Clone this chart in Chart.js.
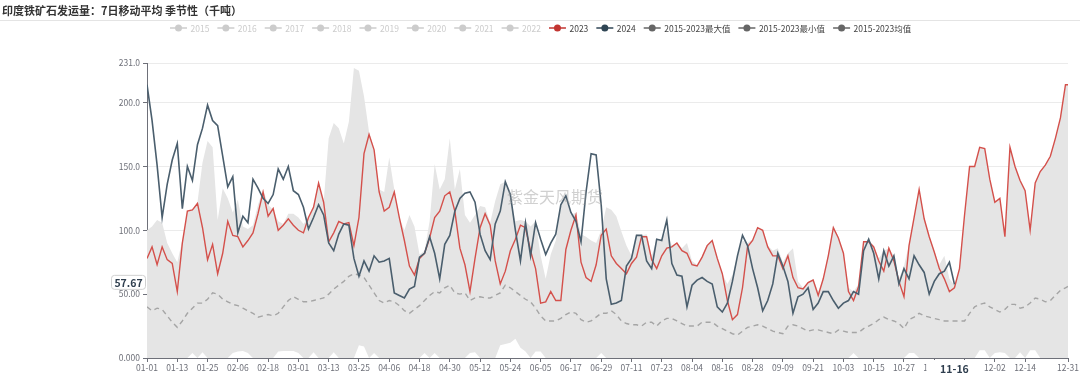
<!DOCTYPE html>
<html>
<head>
<meta charset="utf-8">
<script src="https://cdn.jsdelivr.net/npm/chart.js@4.4.1/dist/chart.umd.min.js"></script>
<style>
html, body { margin: 0; padding: 0; background: #fff; }
</style>
</head>
<body>
<canvas id="seasonChart" width="1080" height="376"></canvas>
<script>
const FONT = '"Noto Sans CJK SC", "Noto Sans", sans-serif'
const titleText = '印度铁矿石发运量：7日移动平均 季节性（千吨）'

// x = day of year (leap calendar), sampled every 2 days, last point 12-31
const days = Array.from({length: 183}, (_, i) => i * 2).concat([365])

const tickDays = [0, 12, 24, 36, 48, 60, 72, 84, 96, 108, 120, 132, 144, 156, 168, 180, 192, 204, 216, 228, 240, 252, 264, 276, 288, 300, 312, 324, 336, 348, 365]
const tickLabels = ['01-01', '01-13', '01-25', '02-06', '02-18', '03-01', '03-13', '03-25', '04-06', '04-18', '04-30', '05-12', '05-24', '06-05', '06-17', '06-29', '07-11', '07-23', '08-04', '08-16', '08-28', '09-09', '09-21', '10-03', '10-15', '10-27', '11-08', '11-20', '12-02', '12-14', '12-31']
const yTicks = [0, 50, 100, 150, 200, 231]
const yTickLabels = ['0.000', '50.00', '100.0', '150.0', '200.0', '231.0']

const legendNames = ['2015', '2016', '2017', '2018', '2019', '2020', '2021', '2022', '2023', '2024', '2015-2023最大值', '2015-2023最小值', '2015-2023均值']
const legendIcon = ['#ccc', '#ccc', '#ccc', '#ccc', '#ccc', '#ccc', '#ccc', '#ccc', '#c23531', '#2f4554', '#666', '#666', '#666']
const legendText = ['#ccc', '#ccc', '#ccc', '#ccc', '#ccc', '#ccc', '#ccc', '#ccc', '#444', '#444', '#444', '#444', '#444']

const v2023 = [
  78, 87, 73, 87, 77, 74, 52, 90, 115, 116,
  121, 102, 77, 89, 66, 82, 107, 96, 95, 87,
  92, 98, 113, 130, 111, 117, 100, 104, 109, 104,
  100, 98, 110, 118, 137, 122, 91, 98, 107, 105,
  106, 88, 110, 160, 175, 163, 130, 115, 118, 130,
  110, 92, 72, 65, 78, 82, 94, 110, 115, 127,
  130, 115, 86, 73, 52, 78, 102, 113, 104, 76,
  58, 68, 84, 93, 104, 102, 84, 70, 43, 44,
  52, 45, 45, 85, 100, 112, 75, 63, 60, 73,
  96, 101, 80, 74, 70, 66, 74, 79, 95, 95,
  77, 70, 80, 86, 87, 90, 84, 82, 73, 72,
  79, 88, 92, 78, 66, 45, 30, 34, 55, 87,
  92, 102, 100, 87, 80, 80, 70, 80, 63, 55,
  54, 59, 61, 49, 62, 80, 102, 94, 82, 52,
  45, 56, 91, 91, 87, 76, 68, 86, 76, 60,
  48, 88, 110, 132, 109, 95, 83, 70, 62, 52,
  55, 70, 112, 150, 150, 165, 164, 140, 122, 125,
  95, 165, 150, 139, 131, 100, 137, 146, 151, 158,
  172, 188, 214, 214
]

const v2024 = [
  214, 186, 151, 110, 136, 155, 168, 117, 150, 139,
  167, 180, 198, 186, 182, 158, 134, 142, 98, 111,
  106, 140, 133, 125, 121, 128, 148, 140, 150, 131,
  128, 118, 101, 110, 120, 112, 90, 84, 97, 105,
  104, 78, 64, 76, 68, 80, 75, 76, 78, 51,
  49, 47, 54, 56, 79, 82, 95, 82, 62, 89,
  96, 115, 125, 129, 130, 122, 97, 84, 77, 105,
  115, 138, 128, 100, 76, 106, 80, 106, 93, 81,
  90, 97, 120, 127, 114, 107, 91, 130, 160, 159,
  120, 62, 42, 43, 45, 72, 78, 96, 96, 76,
  70, 93, 92, 108, 74, 65, 64, 40, 57, 61,
  63, 60, 58, 40, 36, 43, 60, 80, 96, 88,
  70, 55, 37, 45, 58, 82, 72, 60, 35, 48,
  50, 55, 38, 43, 52, 52, 45, 39, 43, 45,
  52, 50, 84, 93, 82, 62, 84, 72, 80, 58,
  70, 62, 80, 73, 67, 50, 60, 66, 68, 75,
  57.67
]

const maxVals = [
  100, 103, 108, 106, 90, 82, 75, 92, 115, 116,
  122, 153, 170, 165, 108, 133, 125, 114, 124, 103,
  101, 104, 120, 132, 120, 116, 107, 105, 113, 113,
  110, 105, 110, 120, 138, 122, 172, 184, 180, 168,
  185, 227, 225, 205, 177, 163, 132, 130, 157, 132,
  110, 100, 112, 103, 81, 84, 107, 152, 132, 140,
  172, 132, 148, 112, 106, 112, 119, 118, 106, 123,
  136, 138, 127, 107, 108, 107, 103, 107, 80, 62,
  81, 92, 118, 127, 112, 114, 97, 95, 92, 90,
  100, 118, 116, 111, 99, 88, 80, 97, 96, 97,
  80, 93, 93, 100, 88, 90, 86, 90, 76, 73,
  80, 89, 93, 80, 66, 58, 65, 80, 92, 90,
  93, 102, 100, 88, 84, 86, 75, 82, 86, 60,
  55, 59, 62, 52, 62, 82, 104, 95, 83, 55,
  52, 58, 91, 92, 88, 78, 84, 86, 80, 62,
  72, 89, 110, 132, 110, 96, 84, 73, 80, 62,
  57, 70, 112, 150, 150, 165, 164, 140, 122, 125,
  95, 165, 150, 139, 131, 100, 137, 146, 151, 158,
  172, 188, 214, 214
]

const minVals = [
  0, 0, 0, 0, 0, 0, 0, 0, 0, 4,
  0, 4.5, 0, 0, 0, 0, 0, 4, 5, 5.5,
  4, 0, 0, 0, 0, 0, 5, 5.5, 5.5, 5.5,
  4, 0, 0, 4.5, 0, 0, 0, 4.5, 0, 0,
  0, 0, 10, 9, 0, 4, 0, 0, 0, 0,
  0, 0, 0, 0, 0, 4, 0, 4, 0, 0,
  0, 0, 0, 0, 4, 4.5, 0, 0, 0, 0,
  10, 11, 12, 15, 8, 5, 0, 5, 5, 0,
  0, 0, 0, 0, 0, 0, 0, 0, 0, 0,
  4, 0, 0, 0, 0, 0, 0, 0, 0, 0,
  0, 0, 0, 0, 0, 0, 0, 0, 0, 0,
  0, 0, 0, 0, 0, 0, 0, 0, 0, 0,
  0, 0, 0, 0, 0, 0, 0, 0, 0, 0,
  0, 0, 0, 0, 0, 0, 0, 0, 0, 0,
  4, 0, 0, 0, 0, 0, 0, 0, 0, 0,
  0, 4, 4, 0, 0, 0, 0, 0, 0, 0,
  0, 0, 0, 0, 0, 6, 6, 0, 4, 4.5,
  4, 0, 0, 4.5, 0, 6, 6, 0, 0, 0,
  0, 0, 0, 0
]

const avgVals = [
  40, 37, 39, 38, 33, 28, 24, 29, 35, 39,
  43, 43, 46, 51, 50, 46, 44, 42, 41, 39,
  37, 35, 32, 33, 34, 33, 35, 40, 45, 48,
  46, 44, 44, 45, 46, 47, 50, 54, 57, 60,
  64, 66, 65, 63, 57, 51, 45, 43, 45, 44,
  41, 37, 35, 38, 41, 45, 49, 52, 51, 55,
  57, 51, 50, 51, 45, 47, 48, 47, 47, 49,
  51, 57, 55, 52, 49, 46, 44, 39, 33, 29,
  29, 29, 31, 34, 36, 35, 30, 28, 29, 32,
  35, 35, 37, 34, 29, 27, 26, 26, 25, 28,
  28, 25, 29, 31, 31, 29, 27, 25, 25, 25,
  28, 28, 28, 25, 23, 21, 19, 18, 21, 24,
  25, 26, 25, 23, 21, 20, 19, 25, 26, 25,
  23, 21, 22, 22, 21, 20, 19, 22, 21, 20,
  20, 20, 23, 25, 27, 30, 32, 30, 29, 27,
  23, 30, 32, 35, 33, 32, 31, 30, 29, 29,
  29, 29, 29, 35, 40, 42, 43, 40, 38, 36,
  38, 42, 42, 39, 40, 43, 47, 46, 44, 45,
  49, 53, 55, 56
]

const pointerDay = 320
const pointerDayLabel = '11-16'
const pointerValue = 57.67

function toPts(vals) {
    return vals.map((v, i) => ({x: days[i], y: v}))
}

const decor = {
    id: 'decor',
    beforeDraw(chart) {
        const ctx = chart.ctx
        ctx.save()
        ctx.textBaseline = 'middle'
        ctx.textAlign = 'left'
        ctx.font = 'bold 11px ' + FONT
        ctx.fillStyle = '#333'
        ctx.fillText(titleText, 2, 11)
        ctx.strokeStyle = '#e4e4e4'
        ctx.lineWidth = 1
        ctx.beginPath()
        ctx.moveTo(0, 20.5)
        ctx.lineTo(chart.width, 20.5)
        ctx.stroke()

        // legend row
        ctx.font = '8.5px ' + FONT
        let x = 170
        const y = 28
        legendNames.forEach((name, i) => {
            ctx.strokeStyle = legendIcon[i]
            ctx.lineWidth = 1.5
            ctx.beginPath()
            ctx.moveTo(x, y)
            ctx.lineTo(x + 17, y)
            ctx.stroke()
            ctx.fillStyle = legendIcon[i]
            ctx.beginPath()
            ctx.arc(x + 8.5, y, 3.5, 0, Math.PI * 2)
            ctx.fill()
            ctx.fillStyle = legendText[i]
            ctx.fillText(name, x + 20.5, y + 0.5)
            x += 20.5 + ctx.measureText(name).width + 8
        })
        ctx.restore()
    },
    afterDraw(chart) {
        const ctx = chart.ctx
        const xs = chart.scales.x
        const ys = chart.scales.y
        ctx.save()
        // watermark
        ctx.font = '16px ' + FONT
        ctx.fillStyle = 'rgba(150,150,150,0.45)'
        ctx.textAlign = 'center'
        ctx.textBaseline = 'middle'
        ctx.fillText('紫金天风期货', 555, 197)

        // axis pointer label on x
        const px = xs.getPixelForValue(pointerDay)
        ctx.fillStyle = '#fff'
        ctx.fillRect(px - 28, xs.bottom - 16, 56, 16)
        ctx.font = 'bold 10.5px ' + FONT
        ctx.fillStyle = '#2f3e4e'
        ctx.fillText(pointerDayLabel, px, 369)

        // axis pointer label on y
        const py = ys.getPixelForValue(pointerValue) - 2
        ctx.beginPath()
        ctx.roundRect(111.5, py - 7, 34, 14, 3)
        ctx.fillStyle = '#fff'
        ctx.fill()
        ctx.strokeStyle = '#d0d0d0'
        ctx.lineWidth = 1
        ctx.stroke()
        ctx.fillStyle = '#2f3e4e'
        ctx.fillText(pointerValue.toFixed(2), 128.5, py + 0.5)
        ctx.restore()
    }
}

const ctx = document.getElementById('seasonChart').getContext('2d')
const seasonChart = new Chart(ctx, {
    type: 'line',
    data: {
        datasets: [
            {
                label: '2024',
                data: toPts(v2024),
                borderColor: '#4a5e6d',
                borderWidth: 1.6,
                pointRadius: 0,
                fill: false
            },
            {
                label: '2023',
                data: toPts(v2023),
                borderColor: '#d4504b',
                borderWidth: 1.4,
                pointRadius: 0,
                fill: false
            },
            {
                label: '2015-2023均值',
                data: toPts(avgVals),
                borderColor: '#a5a5a5',
                borderDash: [5, 4],
                borderWidth: 1.4,
                pointRadius: 0,
                fill: false
            },
            {
                label: '2015-2023最小值',
                data: toPts(minVals),
                borderColor: 'rgba(0,0,0,0)',
                borderWidth: 0,
                backgroundColor: '#ffffff',
                pointRadius: 0,
                fill: 'origin'
            },
            {
                label: '2015-2023最大值',
                data: toPts(maxVals),
                borderColor: 'rgba(0,0,0,0)',
                borderWidth: 0,
                backgroundColor: '#e5e5e5',
                pointRadius: 0,
                fill: 'origin'
            }
        ]
    },
    options: {
        responsive: false,
        animation: false,
        layout: {
            padding: {top: 63, right: 12, bottom: 0, left: 0}
        },
        plugins: {
            legend: {display: false},
            title: {display: false},
            tooltip: {enabled: false}
        },
        scales: {
            x: {
                type: 'linear',
                min: 0,
                max: 365,
                afterBuildTicks: s => { s.ticks = tickDays.map(v => ({value: v})) },
                afterFit: s => { s.height = 18 },
                ticks: {
                    autoSkip: false,
                    maxRotation: 0,
                    padding: 1,
                    color: '#6E7079',
                    font: {size: 8.5, family: FONT},
                    callback: (v, i) => tickLabels[i]
                },
                grid: {
                    drawOnChartArea: false,
                    drawTicks: true,
                    tickLength: 4,
                    color: '#6E7079'
                },
                border: {color: '#6E7079'}
            },
            y: {
                min: 0,
                max: 231,
                afterBuildTicks: s => { s.ticks = yTicks.map(v => ({value: v})) },
                afterFit: s => { s.width = 147 },
                ticks: {
                    padding: 3,
                    color: '#6E7079',
                    font: {size: 8.5, family: FONT},
                    callback: (v, i) => yTickLabels[i]
                },
                grid: {
                    color: '#ebebeb',
                    tickColor: '#6E7079',
                    tickLength: 4
                },
                border: {color: '#6E7079'}
            }
        }
    },
    plugins: [decor]
})
</script>
</body>
</html>
